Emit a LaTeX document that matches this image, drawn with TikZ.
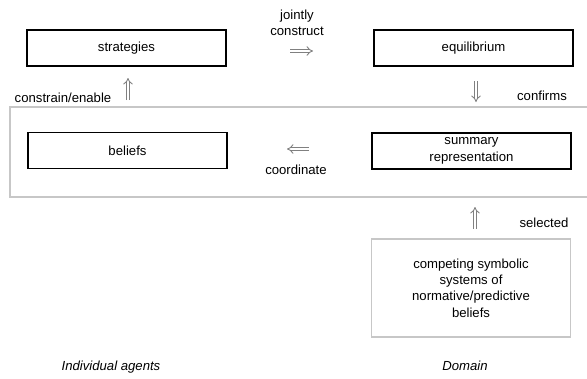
\documentclass[tikz,border=0pt]{standalone}
\usepackage{fontspec}
\setmainfont{Liberation Sans}
\usetikzlibrary{arrows.meta}

\begin{document}
\begin{tikzpicture}[x=1bp,y=-1bp,font=\fontsize{13.2}{16.5}\selectfont,
  box/.style={draw,line width=1.1pt,minimum width=199bp,minimum height=36bp,inner sep=0pt,align=center},
  impl/.style={black!50,line width=0.9pt,double=white,double distance=2.4pt,-{Implies}},
  lbl/.style={inner sep=0pt,align=center}]
\useasboundingbox (0,0) rectangle (587,378);
% shared belief layer
\draw[black!22,line width=1.3pt] (10,107) rectangle (600,197);
\node[box] (strat) at (126.5,48) {strategies};
\node[box] (equil) at (473.5,48) {equilibrium};
\node[box] (belief) at (127.5,150.5) {beliefs};
\node[box] (summ) at (471.5,151) {summary\\representation};
\node[box,draw=black!22,minimum height=98bp] (comp) at (471,288)
  {competing symbolic\\systems of\\normative/predictive\\beliefs};
\node[lbl] (jc) at (297,23) {jointly\\construct};
\node[lbl] (ce) at (63,98) {constrain/enable};
\node[lbl] (cf) at (542,96) {confirms};
\node[lbl] (co) at (296,170) {coordinate};
\node[lbl] (se) at (544,223) {selected};
\node[lbl,font=\fontsize{13.2}{16.5}\selectfont\itshape] (ia) at (111,367) {Individual agents};
\node[lbl,font=\fontsize{13.2}{16.5}\selectfont\itshape] (dm) at (465,366) {Domain};
% double arrows
\coordinate (a1) at (290,51);  \coordinate (a2) at (313,51);
\coordinate (b1) at (128,100); \coordinate (b2) at (128,78);
\coordinate (c1) at (476,81);  \coordinate (c2) at (476,102);
\coordinate (d1) at (309,149); \coordinate (d2) at (287,149);
\coordinate (e1) at (475,229); \coordinate (e2) at (475,207);
\draw[impl] (a1) -- (a2);
\draw[impl] (b1) -- (b2);
\draw[impl] (c1) -- (c2);
\draw[impl] (d1) -- (d2);
\draw[impl] (e1) -- (e2);
\end{tikzpicture}
\end{document}
